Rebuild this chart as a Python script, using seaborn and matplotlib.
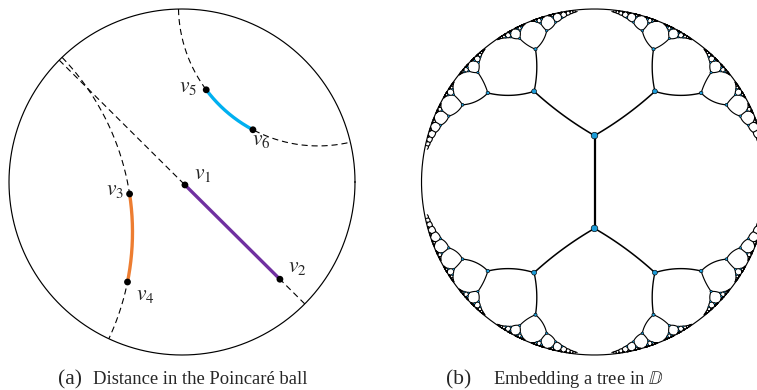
import numpy as np
import matplotlib
matplotlib.use("Agg")
import matplotlib.pyplot as plt
from matplotlib.collections import LineCollection
import seaborn as sns

# ---- panel (a): vertices in the Poincaré disk (unit-disk coordinates) ----
vertex_labels = ["$v_1$", "$v_2$", "$v_3$", "$v_4$", "$v_5$", "$v_6$"]
vertex_x = [0.017, 0.566, -0.303, -0.315, 0.140, 0.410]
vertex_y = [-0.017, -0.562, -0.069, -0.578, 0.533, 0.302]
# vertex pairs joined by a geodesic segment
segment_pairs = [(0, 1), (2, 3), (4, 5)]
segment_colors = ["#7030a0", "#ed7d31", "#00b0f0"]

# ---- panel (b): regular tree, every vertex of degree 3, equal hyperbolic edge length ----
tree_edge_length = 1.10
tree_depth = 10

captions_a = ["(a)", "Distance in the Poincaré ball"]
captions_b = ["(b)", r"Embedding a tree in $\mathbb{D}$"]

sns.set_theme(style="white")
plt.rcParams["font.family"] = ["Liberation Serif", "DejaVu Serif"]
plt.rcParams["mathtext.fontset"] = "stix"

W, H = 757, 390
R_PX = 173.0
fig = plt.figure(figsize=(W / 100, H / 100), dpi=100)


def make_axes(cx, cy, left_px, right_px):
    half = 182.0
    ax = fig.add_axes([left_px / W, (H - (cy + half)) / H,
                       (right_px - left_px) / W, 2 * half / H])
    ax.set_xlim((left_px - cx) / R_PX, (right_px - cx) / R_PX)
    ax.set_ylim(-half / R_PX, half / R_PX)
    ax.axis("off")
    return ax


def draw_boundary(ax):
    th = np.linspace(0, 2 * np.pi, 721)
    ax.plot(np.cos(th), np.sin(th), color="black", lw=0.85, zorder=1)


def geodesic(p, q, n=500, full=True):
    """Points of the hyperbolic geodesic through p and q (complex numbers)."""
    to0 = lambda z: (z - p) / (1 - np.conj(p) * z)
    back = lambda w: (w + p) / (1 + np.conj(p) * w)
    w = to0(q)
    u = w / abs(w)
    t = np.linspace(-1.0, 1.0, n) if full else np.linspace(0.0, abs(w), n)
    return back(t * u)


# ---------------- panel (a) ----------------
axa = make_axes(182.0, 182.0, 0.0, 364.0)
draw_boundary(axa)
pts = np.array(vertex_x) + 1j * np.array(vertex_y)
for (i, j), col in zip(segment_pairs, segment_colors):
    full = geodesic(pts[i], pts[j])
    axa.plot(full.real, full.imag, color="black", lw=0.8,
             linestyle=(0, (5.5, 3.5)), zorder=2)
    seg = geodesic(pts[i], pts[j], full=False)
    axa.plot(seg.real, seg.imag, color=col, lw=2.4, solid_capstyle="butt", zorder=3)

sns.scatterplot(x=vertex_x, y=vertex_y, color="black", s=24, edgecolor="none",
                legend=False, ax=axa, zorder=4)

label_pos = {"$v_1$": (0.121, 0.046), "$v_2$": (0.665, -0.494),
             "$v_3$": (-0.387, -0.052), "$v_4$": (-0.214, -0.657),
             "$v_5$": (0.035, 0.546), "$v_6$": (0.457, 0.239)}
for lab in vertex_labels:
    x, y = label_pos[lab]
    axa.text(x, y, lab, fontsize=15.5, ha="center", va="center", zorder=5)

# ---------------- panel (b) ----------------
axb = make_axes(594.5, 182.0, 412.5, 757.0)
draw_boundary(axb)


def mob(M, z):
    return (M[0, 0] * z + M[0, 1]) / (M[1, 0] * z + M[1, 1])


def translation(c):
    return np.array([[1, c], [np.conj(c), 1]], dtype=complex)


r_edge = np.tanh(tree_edge_length / 2)
r_half = np.tanh(tree_edge_length / 4)
edge_pts, edge_lw = [], []
node_z, node_level = [], []
s_param = np.linspace(0.0, 1.0, 18)


def grow(M, parent_dir, level):
    node_z.append(mob(M, 0))
    node_level.append(level)
    if level >= tree_depth:
        return
    for k in (1, 2):
        ang = parent_dir + 2 * np.pi * k / 3
        c = r_edge * np.exp(1j * ang)
        path = mob(M, s_param * c)
        edge_pts.append(np.column_stack([path.real, path.imag]))
        mid = path[len(path) // 2]
        edge_lw.append(max(0.8, 1.2 * (1 - abs(mid) ** 2) ** 0.25))
        grow(M @ translation(c), ang + np.pi, level + 1)


# central edge between the two roots, centred on the origin
root_path = np.linspace(-r_half, r_half, 2) * 1j
edge_pts.append(np.column_stack([root_path.real, root_path.imag]))
edge_lw.append(1.6)
grow(translation(1j * r_half), -np.pi / 2, 0)
grow(translation(-1j * r_half), np.pi / 2, 0)

axb.add_collection(LineCollection(edge_pts, colors="black", linewidths=edge_lw,
                                  capstyle="round", zorder=2))

node_z = np.array(node_z)
node_level = np.array(node_level)
keep = node_level <= 5
nz = node_z[keep]
diam_pt = (1.6 + 5.4 * (1 - np.abs(nz) ** 2)) / 1.389
sns.scatterplot(x=nz.real, y=nz.imag, s=diam_pt ** 2, color="#1b9bd7",
                edgecolor="black", linewidth=0.45, legend=False, ax=axb, zorder=3)

# ---------------- captions ----------------
base_y = 1 - 384.5 / H
fig.text(58 / W, base_y, captions_a[0], fontsize=15.5, ha="left", va="baseline")
fig.text(93 / W, base_y, captions_a[1], fontsize=13.4, ha="left", va="baseline")
fig.text(446 / W, base_y, captions_b[0], fontsize=15.5, ha="left", va="baseline")
fig.text(493 / W, base_y, captions_b[1], fontsize=13.4, ha="left", va="baseline")

fig.savefig("out.png", dpi=100)
